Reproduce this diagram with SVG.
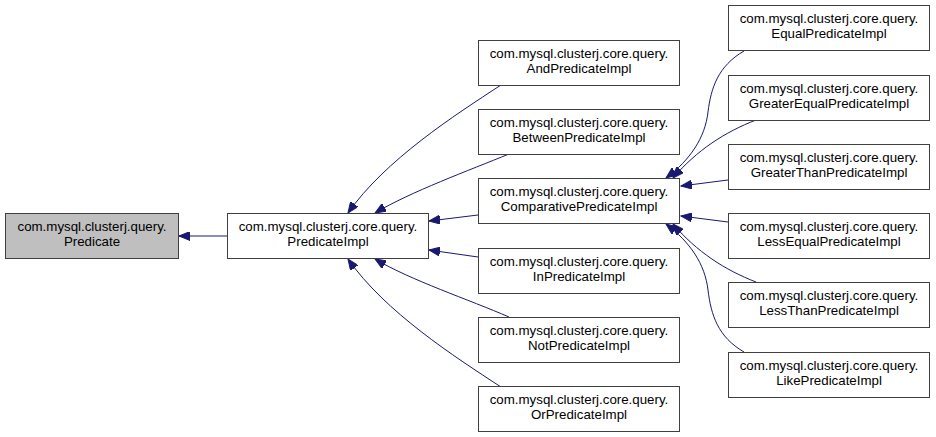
<svg xmlns="http://www.w3.org/2000/svg" width="936" height="437" viewBox="0 0 936 437">
<style>
.box{fill:#fff;stroke:#404040;stroke-width:1}
.hl{fill:#bfbfbf}
text{font-family:"Liberation Sans",Arial,sans-serif;font-size:13.3px;fill:#000;text-anchor:middle}
.e{fill:none;stroke:#191970;stroke-width:1;marker-end:url(#ah)}
</style>
<defs>
<marker id="ah" markerUnits="userSpaceOnUse" markerWidth="12" markerHeight="9" refX="11" refY="4.5" orient="auto">
<path d="M0,0 L11,4.5 L0,9 z" fill="#191970" stroke="#191970" stroke-width="1"/>
</marker>
</defs>
<rect width="936" height="437" fill="#fff"/>
<g id="connectors">
<path class="e" d="M227,236 L179,236"/>
<path class="e" d="M501,85 C455,115 385,160 348,213"/>
<path class="e" d="M509,154 C470,170 410,192 375,213"/>
<path class="e" d="M478,215 L429,221"/>
<path class="e" d="M478,257 L429,250"/>
<path class="e" d="M509,317 C470,300 410,280 375,259"/>
<path class="e" d="M501,387 C455,357 385,312 348,259"/>
<path class="e" d="M744,51 C718,66 711,88 708,112 C705,138 690,160 666,178"/>
<path class="e" d="M756,120 C725,132 697,150 673,178"/>
<path class="e" d="M728,180 L681,186"/>
<path class="e" d="M728,222 L681,216"/>
<path class="e" d="M756,282 C725,270 697,252 673,224"/>
<path class="e" d="M744,352 C718,337 711,315 708,290 C705,264 690,242 666,224"/>
</g>
<g id="Predicate"><rect class="box hl" x="5.5" y="213.5" width="173" height="45"/><text x="92" y="231">com.mysql.clusterj.query.</text><text x="92" y="246">Predicate</text></g>
<g id="PredicateImpl"><rect class="box" x="227.5" y="213.5" width="201" height="45"/><text x="328" y="231">com.mysql.clusterj.core.query.</text><text x="328" y="246">PredicateImpl</text></g>
<g id="AndPredicateImpl"><rect class="box" x="478.5" y="40.5" width="201" height="45"/><text x="579" y="58">com.mysql.clusterj.core.query.</text><text x="579" y="73">AndPredicateImpl</text></g>
<g id="BetweenPredicateImpl"><rect class="box" x="478.5" y="109.5" width="201" height="45"/><text x="579" y="127">com.mysql.clusterj.core.query.</text><text x="579" y="142">BetweenPredicateImpl</text></g>
<g id="ComparativePredicateImpl"><rect class="box" x="478.5" y="178.5" width="201" height="45"/><text x="579" y="196">com.mysql.clusterj.core.query.</text><text x="579" y="211">ComparativePredicateImpl</text></g>
<g id="InPredicateImpl"><rect class="box" x="478.5" y="248.5" width="201" height="45"/><text x="579" y="266">com.mysql.clusterj.core.query.</text><text x="579" y="281">InPredicateImpl</text></g>
<g id="NotPredicateImpl"><rect class="box" x="478.5" y="317.5" width="201" height="45"/><text x="579" y="335">com.mysql.clusterj.core.query.</text><text x="579" y="350">NotPredicateImpl</text></g>
<g id="OrPredicateImpl"><rect class="box" x="478.5" y="386.5" width="201" height="45"/><text x="579" y="404">com.mysql.clusterj.core.query.</text><text x="579" y="419">OrPredicateImpl</text></g>
<g id="EqualPredicateImpl"><rect class="box" x="728.5" y="5.5" width="201" height="45"/><text x="829" y="23">com.mysql.clusterj.core.query.</text><text x="829" y="38">EqualPredicateImpl</text></g>
<g id="GreaterEqualPredicateImpl"><rect class="box" x="728.5" y="75.5" width="201" height="45"/><text x="829" y="93">com.mysql.clusterj.core.query.</text><text x="829" y="108">GreaterEqualPredicateImpl</text></g>
<g id="GreaterThanPredicateImpl"><rect class="box" x="728.5" y="144.5" width="201" height="45"/><text x="829" y="162">com.mysql.clusterj.core.query.</text><text x="829" y="177">GreaterThanPredicateImpl</text></g>
<g id="LessEqualPredicateImpl"><rect class="box" x="728.5" y="213.5" width="201" height="45"/><text x="829" y="231">com.mysql.clusterj.core.query.</text><text x="829" y="246">LessEqualPredicateImpl</text></g>
<g id="LessThanPredicateImpl"><rect class="box" x="728.5" y="282.5" width="201" height="45"/><text x="829" y="300">com.mysql.clusterj.core.query.</text><text x="829" y="315">LessThanPredicateImpl</text></g>
<g id="LikePredicateImpl"><rect class="box" x="728.5" y="352.5" width="201" height="45"/><text x="829" y="370">com.mysql.clusterj.core.query.</text><text x="829" y="385">LikePredicateImpl</text></g>
</svg>
